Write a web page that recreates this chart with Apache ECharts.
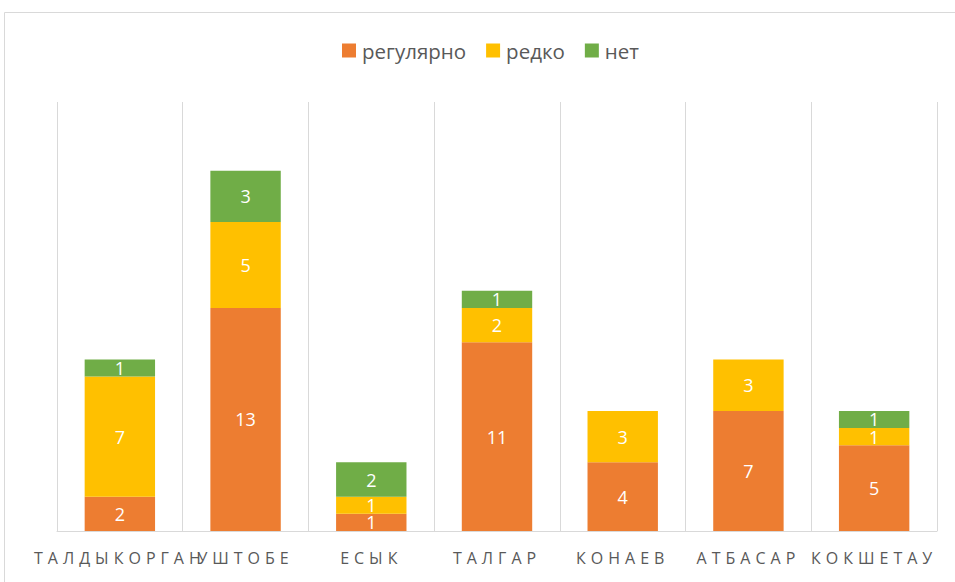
<!DOCTYPE html>
<html>
<head>
<meta charset="utf-8">
<script src="https://cdn.jsdelivr.net/npm/echarts@6/dist/echarts.min.js"></script>
<style>
  html, body { margin: 0; padding: 0; background: #fff; }
  #chart { width: 955px; height: 582px; }
</style>
</head>
<body>
<div id="chart"></div>
<script>
const cities = ['ТАЛДЫКОРГАН', 'УШТОБЕ', 'ЕСЫК', 'ТАЛГАР', 'КОНАЕВ', 'АТБАСАР', 'КОКШЕТАУ'];
const regular = [2, 13, 1, 11, 4, 7, 5];
const rarely = [7, 5, 1, 2, 3, 3, 1];
const never = [1, 3, 2, 1, 0, 0, 1];

const seriesNames = ['регулярно', 'редко', 'нет'];
const colors = ['#ED7D31', '#FFC000', '#70AD47'];

const makeSeries = (name, data, color) => ({
  name: name,
  type: 'bar',
  stack: 'total',
  barCategoryGap: '44%',
  itemStyle: { color: color },
  label: {
    show: true,
    position: 'inside',
    color: '#fff',
    fontSize: 18,
    fontFamily: 'Open Sans',
    formatter: p => (p.value ? p.value : '')
  },
  data: data
});

const chart = echarts.init(document.getElementById('chart'), null, { renderer: 'svg' });

// the city names are drawn spaced out, like the original Excel chart
chart.on('finished', () => {
  document.querySelectorAll('#chart text').forEach(t => {
    if (cities.includes(t.textContent)) {
      t.setAttribute('letter-spacing', '5');
    }
  });
});

chart.setOption({
  animation: false,
  textStyle: { fontFamily: 'Open Sans' },
  graphic: [{
    type: 'rect',
    shape: { x: 4.5, y: 12.5, width: 1000, height: 1000 },
    style: { fill: 'none', stroke: '#D9D9D9', lineWidth: 1 },
    silent: true
  }],
  legend: {
    top: 35,
    left: 337,
    itemWidth: 14,
    itemHeight: 14,
    itemGap: 20,
    icon: 'rect',
    textStyle: { color: '#595959', fontSize: 20.5, fontFamily: 'Open Sans', padding: [0, 0, 0, 1] },
    data: seriesNames
  },
  grid: { left: 57, right: 18, top: 102, bottom: 51 },
  xAxis: {
    type: 'category',
    data: cities,
    axisLine: { lineStyle: { color: '#D9D9D9', width: 1 } },
    axisTick: { show: false },
    splitLine: { show: true, lineStyle: { color: '#D9D9D9', width: 1 } },
    axisLabel: { color: '#595959', fontSize: 16, margin: 19, interval: 0 }
  },
  yAxis: {
    type: 'value',
    min: 0,
    max: 25,
    show: false,
    splitLine: { show: false }
  },
  series: [
    makeSeries(seriesNames[0], regular, colors[0]),
    makeSeries(seriesNames[1], rarely, colors[1]),
    makeSeries(seriesNames[2], never, colors[2])
  ]
});
</script>
</body>
</html>
